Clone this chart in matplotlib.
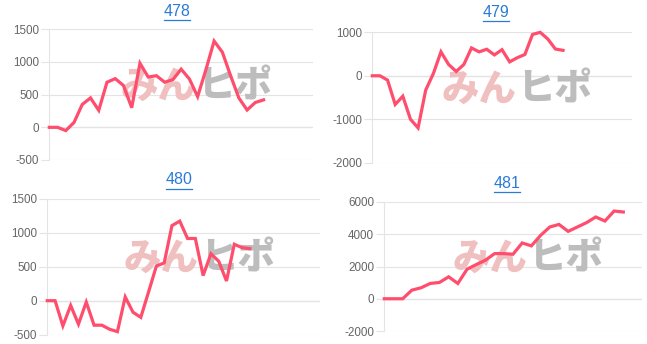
import matplotlib
matplotlib.use("Agg")
import matplotlib.pyplot as plt
from matplotlib.lines import Line2D

plt.rcParams["axes.unicode_minus"] = False

W, H = 647, 344

titles = ["478", "479", "480", "481"]

d478 = [0, 0, -50, 75, 350, 450, 260, 690, 745, 640, 300, 980, 770, 790, 690,
        730, 890, 740, 470, 880, 1320, 1150, 790, 450, 265, 380, 420]
d479 = [0, 0, -100, -660, -470, -1000, -1200, -330, 50, 550, 260, 100, 260, 640,
        550, 610, 480, 600, 320, 415, 490, 950, 1000, 846, 615, 585]
d480 = [0, 0, -370, -70, -345, -20, -360, -360, -420, -455, 55, -170, -245, 130,
        510, 555, 1105, 1170, 915, 915, 370, 690, 580, 290, 830, 780, 765]
d481 = [0, 0, 0, 535, 680, 950, 1010, 1360, 950, 1830, 2120, 2390, 2800, 2800,
        2760, 3460, 3280, 3930, 4450, 4610, 4180, 4450, 4720, 5070, 4820, 5440, 5380]

slots = [32, 34, 35, 28]
yticks = [
    [-500, 0, 500, 1000, 1500],
    [-2000, -1000, 0, 1000],
    [-500, 0, 500, 1000, 1500],
    [-2000, 0, 2000, 4000, 6000],
]
series = [d478, d479, d480, d481]

# axes boxes in pixels: left, top, right, bottom
boxes = [
    (49.3, 29.3, 313.0, 160.0),
    (372.3, 32.3, 631.7, 162.7),
    (47.3, 198.7, 320.0, 334.7),
    (384.3, 202.0, 641.7, 331.0),
]
# title centres in pixels
title_pos = [(177, 11), (496, 12.5), (179, 180), (507, 183.5)]

line_color = "#ff4d6d"
grid_color = "#e4e4e4"
cjk = ["Noto Sans CJK JP", "DejaVu Sans"]

fig = plt.figure(figsize=(W / 100, H / 100), dpi=100)

title_texts = []
for i in range(4):
    l, t, r, b = boxes[i]
    ax = fig.add_axes([l / W, 1 - b / H, (r - l) / W, (b - t) / H])
    ys = series[i]
    ax.plot(range(len(ys)), ys, color=line_color, lw=2.3, zorder=3,
            solid_joinstyle="miter", clip_on=False)
    ax.set_xlim(0, slots[i])
    ax.set_ylim(yticks[i][0], yticks[i][-1])
    ax.set_yticks(yticks[i])
    ax.set_xticks([])
    ax.grid(axis="y", color=grid_color, lw=0.8, zorder=0)
    ax.axhline(0, color="#b0b0b0", lw=0.8, zorder=1)
    for s in ["top", "right", "bottom"]:
        ax.spines[s].set_visible(False)
    ax.spines["left"].set_color(grid_color)
    ax.spines["left"].set_linewidth(0.8)
    ax.tick_params(axis="y", length=6, width=0.8, color=grid_color, pad=1.5,
                   labelsize=8.4, labelcolor="#666666")
    for lab in ax.get_yticklabels():
        lab.set_family(["Liberation Sans", "DejaVu Sans"])

    # watermark
    ax.text(0.555, 0.56, "みん", transform=ax.transAxes, ha="right", va="center",
            fontsize=27, fontweight="heavy", color="#f0c0c0", family=cjk, zorder=2)
    ax.text(0.56, 0.56, "ヒポ", transform=ax.transAxes, ha="left", va="center",
            fontsize=27, fontweight="heavy", color="#bdbdbd", family=cjk, zorder=2)

    tx, ty = title_pos[i]
    txt = fig.text(tx / W, 1 - ty / H, titles[i], ha="center", va="center",
                   fontsize=11.5, color="#2a7bd6",
                   family=["Liberation Sans", "DejaVu Sans"])
    title_texts.append(txt)

fig.canvas.draw()
renderer = fig.canvas.get_renderer()
for txt in title_texts:
    bb = txt.get_window_extent(renderer)
    yline = bb.y0 - 1
    fig.add_artist(Line2D([bb.x0 / W, bb.x1 / W], [yline / H, yline / H],
                          transform=fig.transFigure, color="#2a7bd6", lw=0.9))

fig.savefig("out.png", dpi=100)
